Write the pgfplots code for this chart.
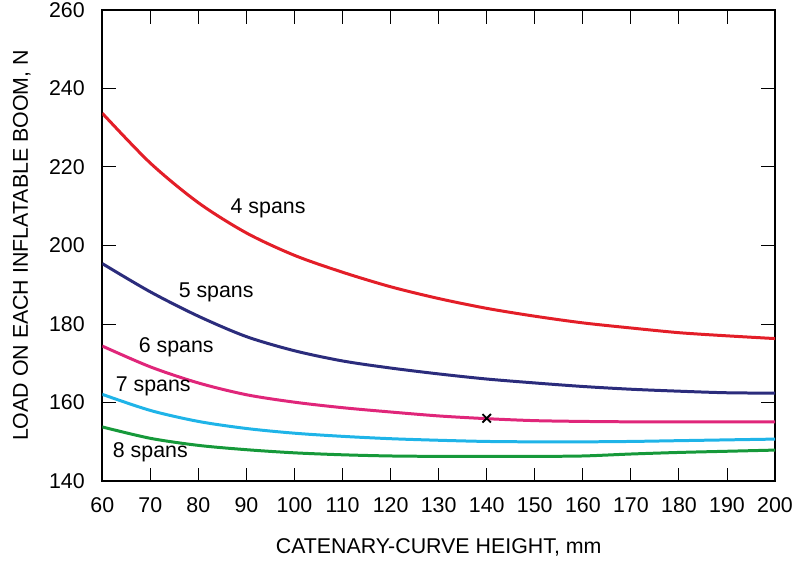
\documentclass[border=0pt]{standalone}
\usepackage{pgfplots}
\pgfplotsset{compat=1.18}
\usepackage{fontspec}
\setmainfont{Liberation Sans}
\definecolor{span4}{RGB}{227,30,40}
\definecolor{span5}{RGB}{43,44,124}
\definecolor{span6}{RGB}{224,38,122}
\definecolor{span7}{RGB}{31,180,232}
\definecolor{span8}{RGB}{22,153,58}
\begin{document}
\fontsize{10.7}{13}\selectfont
\begin{tikzpicture}
\begin{axis}[
    scale only axis,
    width=337pt, height=236pt,
    xmin=60, xmax=200, ymin=140, ymax=260,
    xtick={60,70,...,200}, ytick={140,160,...,260},
    tick align=inside,
    major tick length=6.8pt,
    tick style={black, line width=0.5pt},
    axis line style={line width=1pt},
    /pgf/number format/assume math mode=true,
    xticklabel style={yshift=-4.5pt},
    yticklabel style={xshift=-5pt, inner ysep=1.2pt},
    xlabel={CATENARY-CURVE HEIGHT, mm},
    ylabel={LOAD ON EACH INFLATABLE BOOM, N},
    xlabel style={yshift=-5.5pt},
    ylabel style={yshift=-1pt, inner ysep=6.5pt},
    every axis plot/.append style={line width=1.5pt, smooth, tension=0.5},
]
% 4 spans
\addplot[span4, mark=none] coordinates {
    (60,233.7) (70,221.0) (80,210.9) (90,203.2) (100,197.5) (110,193.2)
    (120,189.5) (130,186.5) (140,184) (150,182) (160,180.3) (170,179)
    (180,177.8) (190,177) (200,176.3)
};
% 5 spans
\addplot[span5, mark=none] coordinates {
    (60,195.4) (70,188.2) (80,182.0) (90,176.8) (100,173.2) (110,170.6)
    (120,168.8) (130,167.3) (140,166) (150,165) (160,164.1) (170,163.4)
    (180,162.9) (190,162.5) (200,162.4)
};
% 6 spans
\addplot[span6, mark=none] coordinates {
    (60,174.4) (70,169.1) (80,165.0) (90,162) (100,160.1) (110,158.7)
    (120,157.6) (130,156.6) (140,155.9) (150,155.4) (160,155.2) (170,155.1)
    (180,155.1) (190,155.1) (200,155.1)
};
% 7 spans
\addplot[span7, mark=none] coordinates {
    (60,162.1) (70,158.0) (80,155.2) (90,153.4) (100,152.2) (110,151.4)
    (120,150.8) (130,150.4) (140,150.1) (150,150) (160,150) (170,150.1)
    (180,150.3) (190,150.5) (200,150.7)
};
% 8 spans
\addplot[span8, mark=none] coordinates {
    (60,153.8) (70,150.9) (80,149.1) (90,148) (100,147.2) (110,146.7)
    (120,146.4) (130,146.3) (140,146.3) (150,146.3) (160,146.4) (170,146.9)
    (180,147.3) (190,147.6) (200,147.9)
};
\addplot[black, only marks, mark=x, mark size=3pt, mark options={line width=0.9pt}] coordinates {(140,156)};
\node at (axis cs:94.5,209.5) {4 spans};
\node at (axis cs:83.7,188) {5 spans};
\node at (axis cs:75.4,174) {6 spans};
\node at (axis cs:70.6,164.2) {7 spans};
\node at (axis cs:70,147.4) {8 spans};
\end{axis}
\end{tikzpicture}
\end{document}
